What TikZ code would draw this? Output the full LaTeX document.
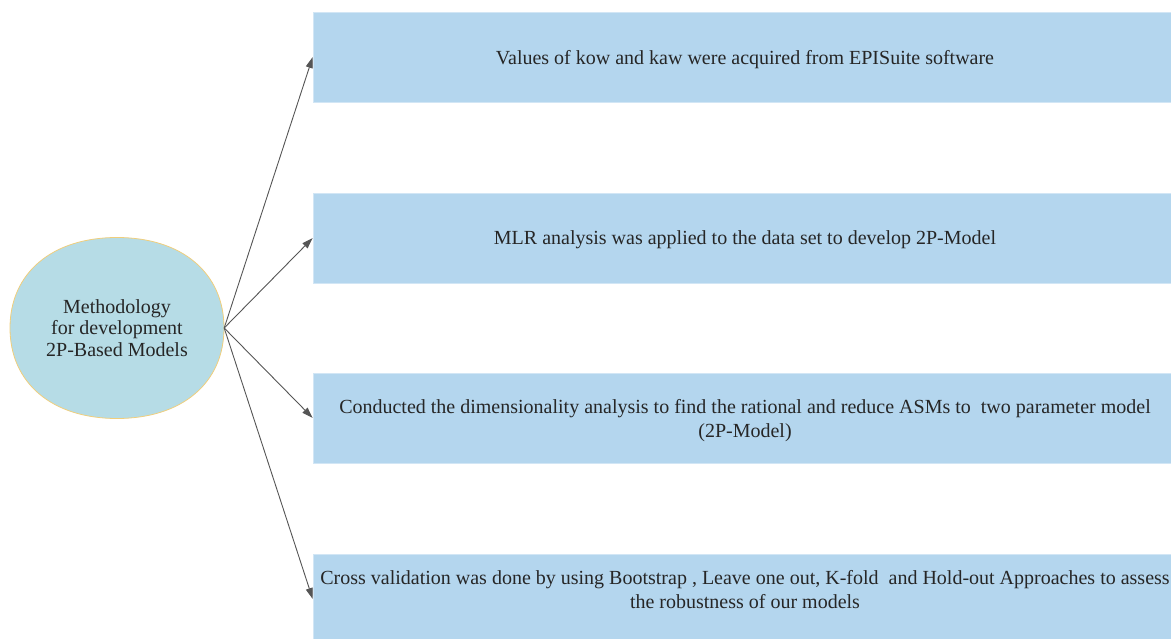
\documentclass[tikz,border=0pt]{standalone}
\usepackage{fontspec}
\setmainfont{Liberation Serif}
\usetikzlibrary{arrows.meta}

\definecolor{hubfill}{HTML}{B6DCE6}
\definecolor{hubline}{HTML}{F0CE7C}
\definecolor{stagefill}{HTML}{B4D6EE}
\definecolor{arrowgray}{HTML}{555555}

\tikzset{
	hub/.style={shape=rectangle,minimum width=214pt,minimum height=181pt,align=center,
		font=\rmfamily\fontsize{20}{21.5}\selectfont,text=black!85},
	hubshape/.style={fill=hubfill,draw=hubline,line width=0.8pt},
	stage/.style={shape=rectangle,fill=stagefill,draw=stagefill!60!white,line width=0.6pt,
		minimum width=864pt,minimum height=90pt,align=center,text depth=0pt,
		font=\rmfamily\fontsize{20}{24}\selectfont,text=black!85},
	link/.style={draw=arrowgray,line width=0.9pt,-{Triangle[length=11pt,width=7pt]}}
}

\begin{document}
\begin{tikzpicture}[x=1pt,y=-1pt]
	
	\useasboundingbox (0,0) rectangle (1171,639);
	
	% rounded outline behind the hub text
	\draw[hubshape] (224,328) .. controls (224,273) and (182,237.5) .. (117,237.5)
		.. controls (52,237.5) and (10,273) .. (10,328)
		.. controls (10,383) and (52,418.5) .. (117,418.5)
		.. controls (182,418.5) and (224,383) .. cycle;
	\node[hub] (m) at (117, 328) {Methodology\\for development\\2P-Based Models};
	
	\node[stage] (s1) at (745, 57)  {Values of kow and kaw were acquired from EPISuite software};
	\node[stage] (s2) at (745, 238) {MLR analysis was applied to the data set to develop 2P-Model};
	\node[stage] (s3) at (745, 418) {Conducted the dimensionality analysis to find the rational and reduce ASMs to\ \ two parameter model\\(2P-Model)};
	\node[stage,text depth=20pt] (s4) at (745, 599) {Cross validation was done by using Bootstrap , Leave one out, K-fold\ \ and Hold-out Approaches to assess\\the robustness of our models};
	
	\path[link] (m.east) -- (s1.west);
	\path[link] (m.east) -- (s2.west);
	\path[link] (m.east) -- (s3.west);
	\path[link] (m.east) -- (s4.west);
	
\end{tikzpicture}
\end{document}
